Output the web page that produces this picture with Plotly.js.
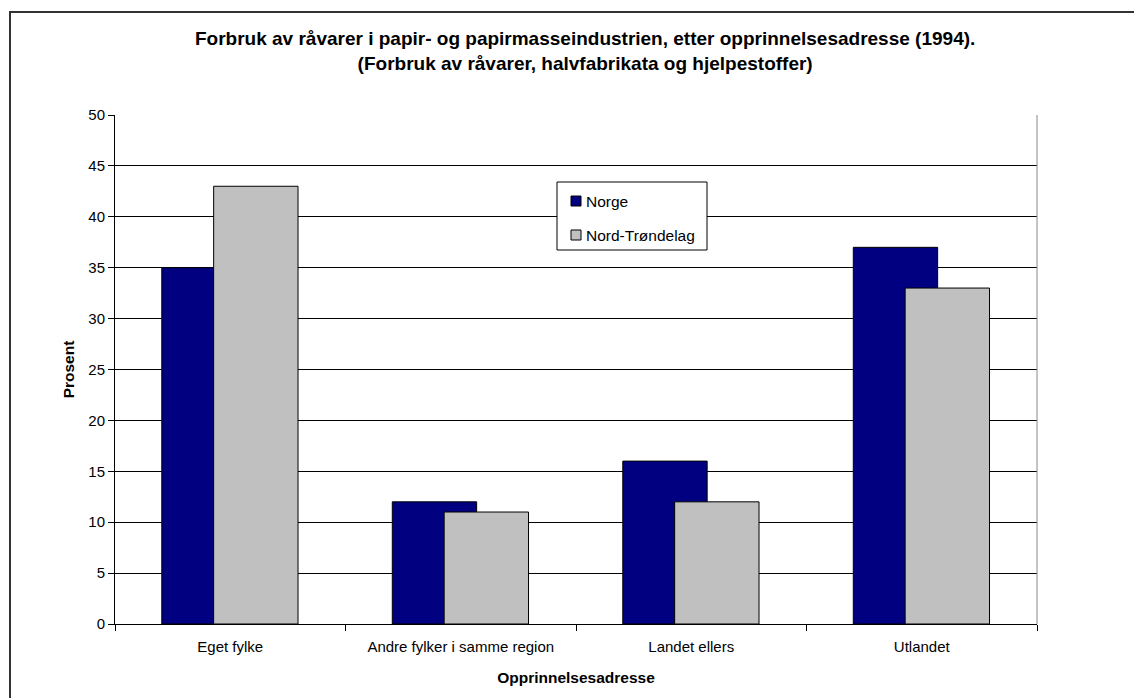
<!DOCTYPE html>
<html>
<head>
<meta charset="utf-8">
<script src="https://cdn.plot.ly/plotly-3.0.1.min.js"></script>
<style>
  html, body { margin: 0; padding: 0; background: #fff; }
  #chart { width: 1134px; height: 698px; }
</style>
</head>
<body>
<div id="chart"></div>
<script>
// Consumption of raw materials by origin, paper and pulp industry (1994), percent
const categories = ['Eget fylke', 'Andre fylker i samme region', 'Landet ellers', 'Utlandet'];
const seriesNames = ['Norge', 'Nord-Trøndelag'];
const norge = [35, 12, 16, 37];
const nordTrondelag = [43, 11, 12, 33];

const FONT = '"Liberation Sans", Arial, sans-serif';
const COLORS = ['#000080', '#C0C0C0'];
const BAR_W = 0.366;

const traces = [
  {
    type: 'bar', name: seriesNames[0], x: categories, y: norge,
    width: BAR_W, offset: -0.297,
    marker: { color: COLORS[0], line: { color: '#000000', width: 1 } },
    hoverinfo: 'x+y+name'
  },
  {
    type: 'bar', name: seriesNames[1], x: categories, y: nordTrondelag,
    width: BAR_W, offset: -0.072,
    marker: { color: COLORS[1], line: { color: '#000000', width: 1 } },
    hoverinfo: 'x+y+name'
  }
];

// Plot-area geometry in pixels (used to place the boxed legend)
const W = 1134, H = 698;
const M = { l: 115, r: 97, t: 115, b: 74 };
const PW = W - M.l - M.r, PH = H - M.t - M.b;
const px = x => (x - M.l) / PW;          // pixel x -> paper x
const py = y => (H - M.b - y) / PH;      // pixel y -> paper y

// Legend: framed box with two swatches and labels
const legendShapes = [
  { type: 'rect', xref: 'paper', yref: 'paper',
    x0: px(557), x1: px(707), y0: py(250), y1: py(182),
    line: { color: '#000', width: 1 }, fillcolor: '#fff', layer: 'above' }
];
const legendAnnotations = [];
const rowY = [201, 235];
seriesNames.forEach((name, i) => {
  legendShapes.push({
    type: 'rect', xref: 'paper', yref: 'paper',
    x0: px(571), x1: px(581), y0: py(rowY[i] + 5), y1: py(rowY[i] - 5),
    line: { color: '#000', width: 1 }, fillcolor: COLORS[i], layer: 'above'
  });
  legendAnnotations.push({
    xref: 'paper', yref: 'paper', x: px(584), y: py(rowY[i]),
    xanchor: 'left', yanchor: 'middle', showarrow: false,
    text: name, font: { family: FONT, size: 15.5, color: '#000' }
  });
});

const layout = {
  width: W, height: H,
  margin: M,
  paper_bgcolor: '#ffffff', plot_bgcolor: '#ffffff',
  font: { family: FONT, size: 15, color: '#000' },
  barmode: 'overlay',
  showlegend: false,
  title: {
    text: '<b>Forbruk av råvarer i papir- og papirmasseindustrien, etter opprinnelsesadresse (1994).</b><br><b>(Forbruk av råvarer, halvfabrikata og hjelpestoffer)</b>',
    font: { family: FONT, size: 19, color: '#000' },
    x: 0.516, xanchor: 'center', xref: 'container',
    y: 0.935, yanchor: 'top', yref: 'container'
  },
  xaxis: {
    type: 'category',
    tickson: 'boundaries', ticks: 'outside', ticklen: 6, tickcolor: '#000',
    showline: true, linecolor: '#000', linewidth: 1,
    showgrid: false,
    ticklabelstandoff: 9,
    tickfont: { family: FONT, size: 15 },
    title: { text: '<b>Opprinnelsesadresse</b>', font: { family: FONT, size: 15.5 }, standoff: 18 }
  },
  yaxis: {
    range: [0, 50], dtick: 5, tick0: 0,
    ticks: 'outside', ticklen: 6, tickcolor: '#000',
    showline: true, linecolor: '#000', linewidth: 1,
    showgrid: true, gridcolor: '#000', gridwidth: 1,
    zeroline: false,
    tickfont: { family: FONT, size: 15 },
    title: { text: '<b>Prosent</b>', font: { family: FONT, size: 15.5 }, standoff: 9 }
  },
  annotations: legendAnnotations,
  shapes: [
    // outer chart frame
    { type: 'rect', xref: 'paper', yref: 'paper',
      x0: px(10), x1: 1.3, y0: -0.3, y1: py(12),
      line: { color: '#333', width: 2 }, fillcolor: 'rgba(0,0,0,0)', layer: 'below' },
    // plot area border (right side)
    { type: 'line', xref: 'paper', yref: 'paper', x0: 1, x1: 1, y0: 0, y1: 1,
      line: { color: '#888', width: 1 } }
  ].concat(legendShapes)
};

Plotly.newPlot('chart', traces, layout, { displayModeBar: false, staticPlot: true });
</script>
</body>
</html>
